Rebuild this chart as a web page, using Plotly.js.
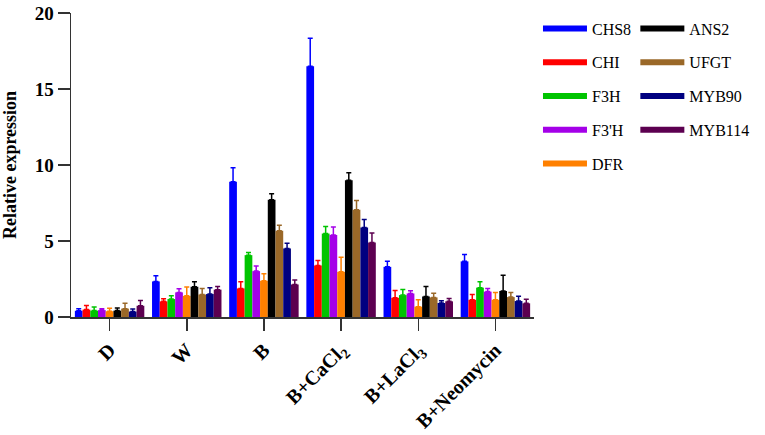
<!DOCTYPE html>
<html>
<head>
<meta charset="utf-8">
<script src="https://cdn.plot.ly/plotly-3.0.1.min.js"></script>
<style>html,body{margin:0;padding:0;background:#fff;}#chart{width:765px;height:435px;}</style>
</head>
<body>
<div id="chart"></div>
<script>
var categories = ['D', 'W', 'B', 'B+CaCl<sub>2</sub>', 'B+LaCl<sub>3</sub>', 'B+Neomycin'];
var genes = ['CHS8', 'CHI', 'F3H', "F3'H", 'DFR', 'ANS2', 'UFGT', 'MYB90', 'MYB114'];
var colors = ['#0000FF', '#FF0000', '#00C400', '#A400E8', '#FF8000', '#000000', '#9A6828', '#000080', '#5C0050'];

var CHS8   = [0.41, 2.34, 8.90, 16.50, 3.30, 3.66];
var CHI    = [0.49, 1.03, 1.88, 3.39, 1.26, 1.13];
var F3H    = [0.42, 1.18, 4.07, 5.49, 1.44, 1.93];
var F3pH   = [0.45, 1.62, 3.02, 5.40, 1.55, 1.67];
var DFR    = [0.38, 1.39, 2.38, 2.97, 0.68, 1.13];
var ANS2   = [0.42, 1.99, 7.72, 9.00, 1.35, 1.71];
var UFGT   = [0.55, 1.48, 5.67, 7.05, 1.29, 1.31];
var MYB90  = [0.36, 1.51, 4.51, 5.89, 0.92, 1.05];
var MYB114 = [0.74, 1.80, 2.14, 4.90, 1.03, 0.90];

var CHS8_err   = [0.13, 0.37, 0.92, 1.84, 0.37, 0.46];
var CHI_err    = [0.26, 0.17, 0.44, 0.32, 0.48, 0.35];
var F3H_err    = [0.23, 0.21, 0.18, 0.47, 0.37, 0.39];
var F3pH_err   = [0.10, 0.24, 0.33, 0.52, 0.17, 0.21];
var DFR_err    = [0.20, 0.59, 0.46, 0.96, 0.45, 0.48];
var ANS2_err   = [0.18, 0.33, 0.39, 0.49, 0.65, 1.04];
var UFGT_err   = [0.36, 0.39, 0.37, 0.61, 0.28, 0.30];
var MYB90_err  = [0.17, 0.42, 0.35, 0.52, 0.15, 0.32];
var MYB114_err = [0.35, 0.21, 0.29, 0.63, 0.19, 0.26];

var yTicks = [0, 5, 10, 15, 20];

var values = [CHS8, CHI, F3H, F3pH, DFR, ANS2, UFGT, MYB90, MYB114];
var errors = [CHS8_err, CHI_err, F3H_err, F3pH_err, DFR_err, ANS2_err, UFGT_err, MYB90_err, MYB114_err];

var serif = '"Liberation Serif", "Times New Roman", serif';
var traces = [];
genes.forEach(function(g, i) {
  traces.push({
    type: 'bar', name: g, x: categories, y: values[i],
    marker: {color: colors[i], line: {width: 0}},
    error_y: {type: 'data', array: errors[i], arrayminus: errors[i].map(function(){return 0;}),
              symmetric: false, color: colors[i], thickness: 1.5, width: 2.5},
    showlegend: false, hoverinfo: 'skip'
  });
});
genes.forEach(function(g, i) {
  traces.push({
    type: 'scatter', mode: 'lines', name: g, x: [null], y: [null],
    line: {color: colors[i], width: 6},
    legend: i < 5 ? 'legend3' : 'legend2',
    legendgroup: g, showlegend: true, hoverinfo: 'skip'
  });
});

function makeLegend(xpos) {
  return {
    font: {family: serif, size: 16, color: '#000', weight: 'normal'},
    bgcolor: 'rgba(0,0,0,0)', borderwidth: 0,
    xanchor: 'left', yanchor: 'top', y: 1.005, x: xpos,
    itemwidth: 44, tracegroupgap: 10, itemclick: false, itemdoubleclick: false
  };
}

var layout = {
  width: 765, height: 435,
  margin: {l: 71, r: 228, t: 11, b: 117.5},
  paper_bgcolor: '#fff', plot_bgcolor: '#fff',
  font: {family: serif, color: '#000'},
  barmode: 'group', bargap: 0.1, bargroupgap: 0,
  showlegend: true,
  legend3: makeLegend(1.0086), legend2: makeLegend(1.2189),
  xaxis: {
    type: 'category', range: [-0.5, 5.5],
    showline: true, linecolor: '#333', linewidth: 1.5,
    ticks: 'outside', ticklen: 12, tickwidth: 1.5, tickcolor: '#333',
    tickangle: -45, showgrid: false, zeroline: false,
    tickfont: {family: serif, size: 20, color: '#000', weight: 'bold'}
  },
  yaxis: {
    range: [0, 20], tickmode: 'array', tickvals: yTicks, ticktext: yTicks.map(String),
    ticklabeloverflow: 'allow',
    showline: true, linecolor: '#333', linewidth: 1.5,
    ticks: 'outside', ticklen: 12, tickwidth: 1.5, tickcolor: '#333',
    showgrid: false, zeroline: false,
    tickfont: {family: serif, size: 19, color: '#000', weight: 'bold'},
    title: {text: 'Relative expression', standoff: 13,
            font: {family: serif, size: 18, color: '#000', weight: 'bold'}}
  }
};

Plotly.newPlot('chart', traces, layout, {staticPlot: true, displayModeBar: false});
</script>
</body>
</html>
